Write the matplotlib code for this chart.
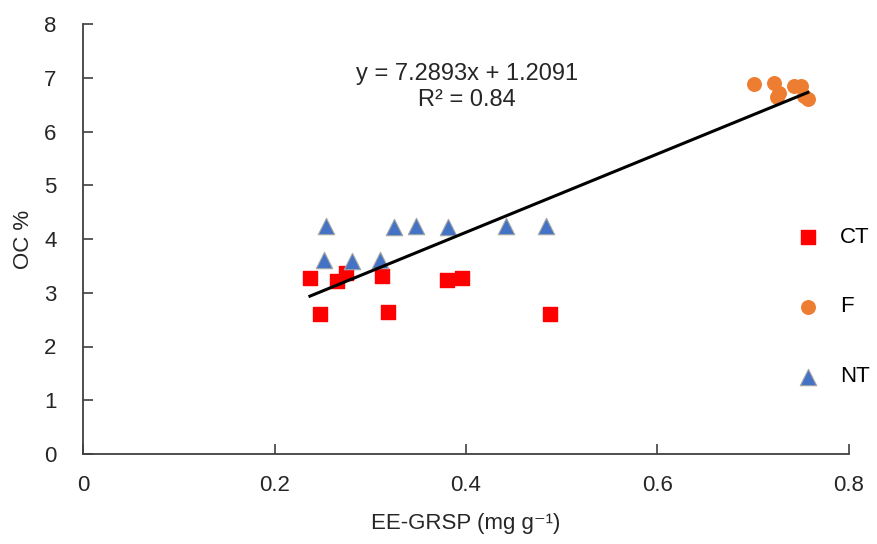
import numpy as np
import matplotlib.pyplot as plt

plt.rcParams['font.family'] = ['Liberation Sans', 'DejaVu Sans']

# CT (red squares)
ct_x = [0.237, 0.265, 0.275, 0.312, 0.248, 0.319, 0.380, 0.396, 0.488]
ct_y = [3.28, 3.21, 3.36, 3.32, 2.61, 2.65, 3.24, 3.28, 2.61]

# F (orange circles)
f_x = [0.701, 0.722, 0.727, 0.725, 0.743, 0.750, 0.757, 0.753]
f_y = [6.88, 6.90, 6.72, 6.64, 6.84, 6.84, 6.60, 6.66]

# NT (blue triangles)
nt_x = [0.254, 0.252, 0.281, 0.310, 0.325, 0.348, 0.381, 0.442, 0.484]
nt_y = [4.24, 3.61, 3.59, 3.61, 4.22, 4.24, 4.22, 4.24, 4.24]

slope = 7.2893
intercept = 1.2091
r2 = 0.84

W, H = 878, 544
fig = plt.figure(figsize=(W/100, H/100), dpi=100)
ax = fig.add_axes([83/W, (H-454)/H, (849-83)/W, (454-24)/H])

ax.scatter(ct_x, ct_y, marker='s', s=95, color='#FF0000', label='CT', zorder=3)
ax.scatter(f_x, f_y, marker='o', s=95, color='#ED7D31', label='F', zorder=3)
ax.scatter(nt_x, nt_y, marker='^', s=140, color='#4472C4', edgecolors='#A6A6A6',
           linewidths=0.8, label='NT', zorder=3)

all_x = ct_x + f_x + nt_x
lx = np.array([min(all_x), max(all_x)])
ax.plot(lx, slope * lx + intercept, color='black', lw=2.2, zorder=4)

ax.text(0.401, 6.83, f'y = {slope}x + {intercept}\nR² = {r2}', ha='center', va='center',
        fontsize=17, color='#262626', linespacing=1.2)

ax.set_xlim(0, 0.8)
ax.set_ylim(0, 8)
ax.set_xticks([0, 0.2, 0.4, 0.6, 0.8])
ax.set_xticklabels(['0', '0.2', '0.4', '0.6', '0.8'])
ax.set_yticks(range(0, 9))
for s in ['top', 'right']:
    ax.spines[s].set_visible(False)
for s in ['left', 'bottom']:
    ax.spines[s].set_color('#404040')
    ax.spines[s].set_linewidth(1.3)
ax.tick_params(direction='in', length=7, width=1.2, color='#404040',
               labelsize=16, labelcolor='#262626')
ax.tick_params(axis='x', pad=15)
ax.tick_params(axis='y', pad=19)

ax.set_xlabel('EE-GRSP (mg g\u207b\u00b9)', fontsize=16, color='#262626', labelpad=12)
ax.set_ylabel('OC %', fontsize=16, color='#262626', labelpad=7)

ax.legend(loc='center left', bbox_to_anchor=(797/W, (H-307)/H), bbox_transform=fig.transFigure,
          frameon=False, fontsize=16, labelspacing=2.2, handlelength=1.0,
          handletextpad=0.95, borderpad=0, borderaxespad=0)

fig.savefig('out.png', dpi=100)
